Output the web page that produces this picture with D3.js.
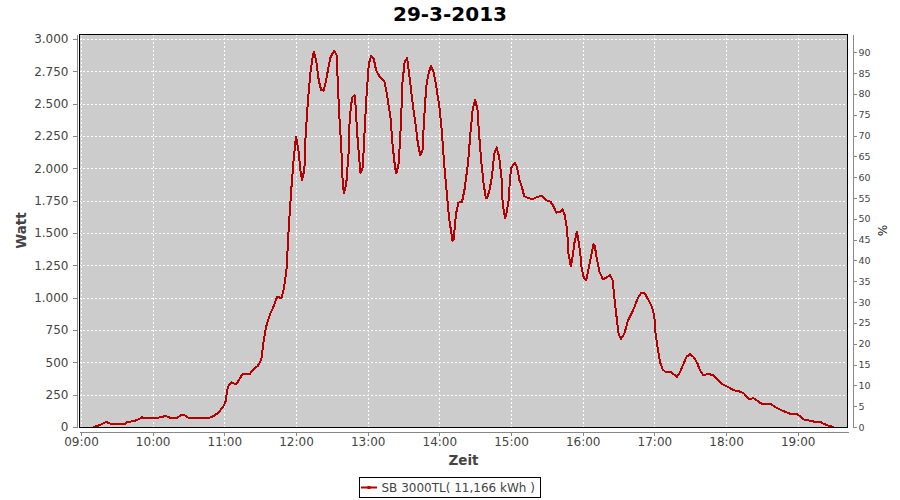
<!DOCTYPE html>
<html>
<head>
<meta charset="utf-8">
<script src="https://cdn.jsdelivr.net/npm/d3@7"></script>
<style>
  body { margin: 0; background: #fff; }
  svg { display: block; font-family: "DejaVu Sans", sans-serif; }
</style>
</head>
<body>
<svg id="chart" width="900" height="500"></svg>
<script>
// Readings of the inverter, one value per sample time
const times = [
  "09:10", "09:16", "09:21", "09:24", "09:26", "09:37", "09:38", "09:44", "09:47", "09:51",
  "09:54", "10:03", "10:06", "10:11", "10:15", "10:20", "10:24", "10:27", "10:30", "10:47",
  "10:51", "10:55", "10:59", "11:01", "11:03", "11:06", "11:10", "11:15", "11:21", "11:25",
  "11:28", "11:31", "11:33", "11:35", "11:38", "11:42", "11:44", "11:48", "11:50", "11:52",
  "11:54", "11:56", "11:58", "12:00", "12:02", "12:04", "12:05", "12:07", "12:08", "12:10",
  "12:12", "12:14", "12:15", "12:17", "12:19", "12:21", "12:23", "12:25", "12:27", "12:29",
  "12:32", "12:34", "12:35", "12:36", "12:38", "12:39", "12:40", "12:42", "12:44", "12:45",
  "12:47", "12:49", "12:50", "12:51", "12:53", "12:54", "12:56", "12:57", "12:59", "13:01",
  "13:03", "13:05", "13:07", "13:10", "13:14", "13:16", "13:19", "13:21", "13:23", "13:24",
  "13:26", "13:28", "13:29", "13:31", "13:33", "13:34", "13:36", "13:38", "13:40", "13:42",
  "13:44", "13:46", "13:47", "13:49", "13:51", "13:53", "13:55", "13:57", "14:00", "14:02",
  "14:04", "14:06", "14:08", "14:11", "14:12", "14:14", "14:16", "14:19", "14:21", "14:24",
  "14:26", "14:28", "14:30", "14:32", "14:33", "14:35", "14:37", "14:39", "14:40", "14:42",
  "14:44", "14:46", "14:48", "14:50", "14:52", "14:53", "14:55", "14:56", "14:58", "14:59",
  "15:00", "15:03", "15:05", "15:07", "15:09", "15:11", "15:14", "15:18", "15:22", "15:26",
  "15:29", "15:33", "15:35", "15:38", "15:41", "15:43", "15:45", "15:47", "15:48", "15:50",
  "15:51", "15:53", "15:55", "15:56", "15:58", "15:59", "16:01", "16:03", "16:05", "16:07",
  "16:09", "16:10", "16:12", "16:14", "16:17", "16:20", "16:23", "16:25", "16:26", "16:28",
  "16:30", "16:32", "16:35", "16:38", "16:41", "16:44", "16:46", "16:49", "16:52", "16:55",
  "16:58", "17:00", "17:01", "17:03", "17:05", "17:07", "17:09", "17:14", "17:17", "17:19",
  "17:21", "17:24", "17:27", "17:30", "17:33", "17:36", "17:38", "17:41", "17:45", "17:49",
  "17:53", "17:58", "18:02", "18:06", "18:12", "18:15", "18:19", "18:23", "18:26", "18:30",
  "18:34", "18:38", "18:42", "18:47", "18:51", "18:55", "18:59", "19:02", "19:05", "19:10",
  "19:14", "19:19", "19:22", "19:26", "19:30"
];

const watts = [
  0, 15, 40, 28, 23, 23, 36, 46, 54, 75,
  67, 67, 75, 85, 70, 70, 93, 90, 70, 70,
  85, 110, 157, 196, 312, 345, 330, 407, 407, 454,
  472, 523, 673, 776, 866, 949, 1003, 1000, 1080, 1209,
  1550, 1832, 2064, 2245, 2142, 1962, 1910, 1987, 2245, 2528,
  2735, 2863, 2902, 2825, 2683, 2606, 2600, 2670, 2773, 2863,
  2907, 2876, 2657, 2451, 2142, 1910, 1807, 1871, 2116, 2399,
  2549, 2567, 2477, 2296, 2064, 1962, 2013, 2219, 2554, 2812,
  2869, 2851, 2760, 2709, 2670, 2580, 2399, 2167, 2000, 1962,
  2039, 2374, 2657, 2825, 2851, 2786, 2631, 2477, 2348, 2194,
  2103, 2142, 2348, 2631, 2735, 2791, 2747, 2657, 2477, 2296,
  2039, 1832, 1626, 1440, 1450, 1652, 1734, 1742, 1832, 2039,
  2271, 2464, 2528, 2451, 2296, 2064, 1884, 1768, 1768, 1832,
  1936, 2116, 2162, 2090, 1936, 1729, 1614, 1639, 1755, 1897,
  2000, 2044, 2013, 1910, 1858, 1786, 1773, 1760, 1781, 1786,
  1755, 1742, 1716, 1657, 1665, 1683, 1639, 1523, 1343, 1245,
  1278, 1420, 1510, 1471, 1343, 1239, 1150, 1137, 1227, 1317,
  1415, 1407, 1291, 1201, 1142, 1157, 1175, 1137, 1046, 879,
  724, 680, 724, 827, 879, 943, 995, 1038, 1033, 982,
  930, 853, 724, 595, 493, 446, 428, 425, 402, 389,
  415, 479, 544, 564, 539, 493, 441, 402, 410, 402,
  363, 325, 307, 286, 273, 260, 217, 222, 204, 178,
  178, 175, 149, 126, 113, 98, 101, 85, 59, 49,
  41, 39, 23, 10, 0
];

const hourTicks = ["09:00", "10:00", "11:00", "12:00", "13:00", "14:00",
                   "15:00", "16:00", "17:00", "18:00", "19:00"];
const wattTicks = [0, 250, 500, 750, 1000, 1250, 1500, 1750, 2000, 2250, 2500, 2750, 3000];
const pctTicks = [0, 5, 10, 15, 20, 25, 30, 35, 40, 45, 50, 55, 60, 65, 70, 75, 80, 85, 90];

const title = "29-3-2013";
const seriesName = "SB 3000TL( 11,166 kWh )";

// plot box
const plotL = 79, plotR = 848, plotT = 34, plotB = 427;

const parseHM = d3.timeParse("%H:%M");
const parseHMS = d3.timeParse("%H:%M:%S");
const data = times.map((t, i) => ({ t: parseHM(t), w: watts[i] }));

const de = d3.formatLocale({ decimal: ",", thousands: ".", grouping: [3], currency: ["", " €"] });

const x = d3.scaleTime()
  .domain([parseHMS("08:58:20"), parseHMS("19:42:06")])
  .range([plotL, plotR]);

const yW = d3.scaleLinear().domain([0, 3039]).range([plotB, plotT]);
const yP = d3.scaleLinear().domain([0, 94.4]).range([plotB, plotT]);

const svg = d3.select("#chart");

svg.append("text")
  .attr("x", 450).attr("y", 20.5)
  .attr("text-anchor", "middle")
  .attr("font-size", 20).attr("font-weight", "bold")
  .attr("fill", "#000")
  .text(title);

// background
svg.append("rect")
  .attr("x", plotL).attr("y", plotT)
  .attr("width", plotR - plotL).attr("height", plotB - plotT)
  .attr("fill", "#cccccc");

// grid
const grid = svg.append("g")
  .attr("stroke", "#fff").attr("stroke-width", 1)
  .attr("stroke-dasharray", "2,2").attr("shape-rendering", "crispEdges");

grid.selectAll("line.h").data(wattTicks.slice(1)).join("line")
  .attr("x1", plotL).attr("x2", plotR)
  .attr("y1", d => Math.round(yW(d)) + 0.5).attr("y2", d => Math.round(yW(d)) + 0.5);

grid.selectAll("line.v").data(hourTicks.map(parseHM)).join("line")
  .attr("y1", plotT).attr("y2", plotB)
  .attr("x1", d => Math.round(x(d)) + 0.5).attr("x2", d => Math.round(x(d)) + 0.5);

// series (drawn without smoothing, like the original)
const line = d3.line().x(d => x(d.t)).y(d => yW(d.w));

svg.append("path")
  .datum(data)
  .attr("fill", "none")
  .attr("stroke", "#b40000")
  .attr("stroke-width", 2)
  .attr("stroke-linejoin", "round")
  .attr("shape-rendering", "crispEdges")
  .attr("d", line);

// frame
svg.append("rect")
  .attr("x", plotL + 0.5).attr("y", plotT + 0.5)
  .attr("width", plotR - plotL - 1).attr("height", plotB - plotT)
  .attr("fill", "none").attr("stroke", "#000").attr("stroke-width", 1)
  .attr("shape-rendering", "crispEdges");

function styleAxis(g, size) {
  g.select(".domain").attr("stroke", "#888").attr("shape-rendering", "crispEdges");
  g.selectAll(".tick line").attr("stroke", "#888").attr("shape-rendering", "crispEdges");
  g.selectAll(".tick text").attr("fill", "#444").attr("font-size", size);
  g.attr("font-family", null);
}

svg.append("g")
  .attr("transform", "translate(76.5,0)")
  .call(d3.axisLeft(yW).tickValues(wattTicks).tickFormat(de.format(",d"))
    .tickSize(4).tickSizeOuter(0).tickPadding(4))
  .call(g => styleAxis(g, 12));

svg.append("g")
  .attr("transform", "translate(0,431.5)")
  .call(d3.axisBottom(x).tickValues(hourTicks.map(parseHM)).tickFormat(d3.timeFormat("%H:%M"))
    .tickSize(4).tickSizeOuter(0).tickPadding(2))
  .call(g => styleAxis(g, 12));

svg.append("g")
  .attr("transform", "translate(852.5,0)")
  .call(d3.axisRight(yP).tickValues(pctTicks)
    .tickSize(4).tickSizeOuter(0).tickPadding(2))
  .call(g => styleAxis(g, 9.5));

// axis titles
svg.append("text")
  .attr("transform", "translate(26,230.5) rotate(-90)")
  .attr("text-anchor", "middle")
  .attr("font-size", 13.5).attr("font-weight", "bold").attr("fill", "#444")
  .text("Watt");

svg.append("text")
  .attr("x", 463.5).attr("y", 465)
  .attr("text-anchor", "middle")
  .attr("font-size", 13.5).attr("font-weight", "bold").attr("fill", "#444")
  .text("Zeit");

svg.append("text")
  .attr("transform", "translate(878,230.5) rotate(90)")
  .attr("text-anchor", "middle")
  .attr("font-size", 12).attr("fill", "#222")
  .text("%");

// legend
const legend = svg.append("g");
legend.append("rect")
  .attr("x", 359.5).attr("y", 477.5).attr("width", 181).attr("height", 20)
  .attr("fill", "#fff").attr("stroke", "#000");
legend.append("line")
  .attr("x1", 361).attr("x2", 377).attr("y1", 487.5).attr("y2", 487.5)
  .attr("stroke", "#b40000").attr("stroke-width", 2);
legend.append("rect")
  .attr("x", 367.5).attr("y", 486).attr("width", 3).attr("height", 3)
  .attr("fill", "#b40000");
legend.append("text")
  .attr("x", 381.5).attr("y", 492)
  .attr("font-size", 12).attr("fill", "#444")
  .text(seriesName);
</script>
</body>
</html>
